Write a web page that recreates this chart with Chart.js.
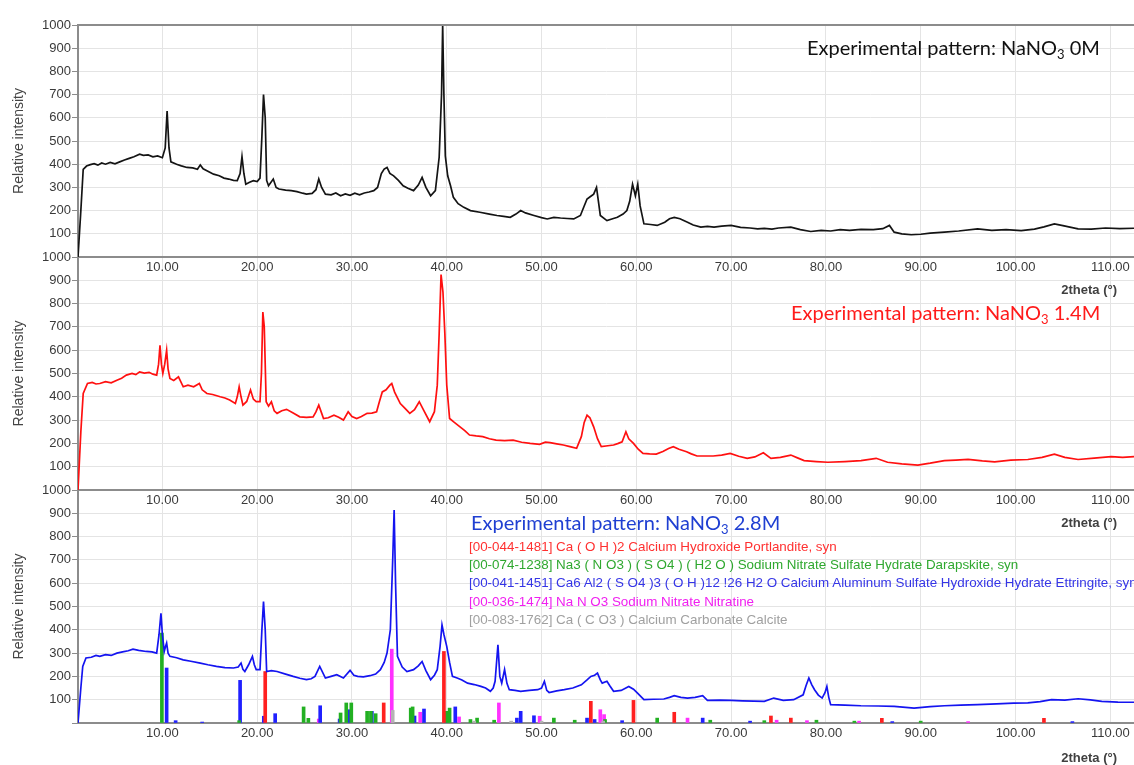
<!DOCTYPE html>
<html>
<head>
<meta charset="utf-8">
<script src="https://cdn.jsdelivr.net/npm/chart.js@4/dist/chart.umd.min.js"></script>
<style>
  html, body { margin: 0; padding: 0; background: #fff; }
  body { width: 1134px; height: 765px; overflow: hidden; position: relative; font-family: "Liberation Sans", Arial, sans-serif; }
  .panel { position: absolute; left: 0; width: 1134px; }
  #p1 { top: 0; height: 287px; z-index: 3; }
  #p2 { top: 232px; height: 288px; z-index: 2; }
  #p3 { top: 465px; height: 288px; z-index: 1; }
  .exp { position: absolute; z-index: 10; white-space: nowrap; font-family: Lato, "Open Sans", sans-serif; font-size: 20px; line-height: 20px; }
  .exp sub { font-size: 13px; vertical-align: -4px; line-height: 0; }
  .xt { position: absolute; z-index: 10; right: 17px; white-space: nowrap; font-weight: bold; font-size: 13px; line-height: 15px; color: #404040; }
  #legend { position: absolute; z-index: 10; left: 469px; top: 538px; font-size: 13.4px; line-height: 18.2px; white-space: nowrap; }
</style>
</head>
<body>
<canvas id="p1" class="panel" width="1134" height="287"></canvas>
<canvas id="p2" class="panel" width="1134" height="288"></canvas>
<canvas id="p3" class="panel" width="1134" height="288"></canvas>

<div class="exp" style="left:807px;top:37px;color:#111;">Experimental pattern: NaNO<sub>3</sub> 0M</div>
<div class="exp" style="left:791px;top:302px;color:#ff1a1a;">Experimental pattern: NaNO<sub>3</sub> 1.4M</div>
<div class="exp" style="left:471px;top:512px;color:#1f3fd2;">Experimental pattern: NaNO<sub>3</sub> 2.8M</div>

<div class="xt" style="top:282px;">2theta (°)</div>
<div class="xt" style="top:515px;">2theta (°)</div>
<div class="xt" style="top:750px;">2theta (°)</div>

<div id="legend">
  <div style="color:#ff3030;">[00-044-1481] Ca ( O H )2 Calcium Hydroxide Portlandite, syn</div>
  <div style="color:#2fa82f;">[00-074-1238] Na3 ( N O3 ) ( S O4 ) ( H2 O ) Sodium Nitrate Sulfate Hydrate Darapskite, syn</div>
  <div style="color:#3535e6;">[00-041-1451] Ca6 Al2 ( S O4 )3 ( O H )12 !26 H2 O Calcium Aluminum Sulfate Hydroxide Hydrate Ettringite, syn</div>
  <div style="color:#f020f0;">[00-036-1474] Na N O3 Sodium Nitrate Nitratine</div>
  <div style="color:#a0a0a0;">[00-083-1762] Ca ( C O3 ) Calcium Carbonate Calcite</div>
</div>

<script>
// ---------- DATA (2theta in degrees, relative intensity) ----------
const yTickValues = [100, 200, 300, 400, 500, 600, 700, 800, 900, 1000];
const xTickValues = [10, 20, 30, 40, 50, 60, 70, 80, 90, 100, 110];

// Experimental pattern NaNO3 0M
const pattern0M = [
  [1.1,0],[1.4,200],[1.65,378],[2.0,392],[2.4,398],[2.8,402],[3.2,396],[3.6,405],[4.0,400],[4.5,408],
  [5.0,402],[5.5,410],[6.0,418],[6.5,425],[7.0,432],[7.6,443],[8.0,438],[8.5,440],[9.0,432],[9.5,436],
  [10.0,428],[10.3,470],[10.5,629],[10.7,470],[10.9,410],[11.5,400],[12.0,393],[12.6,386],[13.2,384],[13.7,378],
  [14.0,397],[14.3,380],[14.8,370],[15.4,357],[16.0,350],[16.5,340],[17.0,336],[17.5,330],[17.9,329],[18.2,360],
  [18.4,433],[18.6,360],[18.8,314],[19.2,322],[19.6,329],[20.0,325],[20.3,340],[20.5,520],[20.67,700],[20.85,600],
  [21.0,330],[21.2,307],[21.7,336],[22.0,300],[22.3,293],[23.0,288],[23.6,286],[24.2,282],[24.8,275],[25.2,271],
  [25.8,274],[26.2,290],[26.5,336],[26.8,300],[27.2,271],[27.8,268],[28.3,276],[28.8,264],[29.3,272],[29.8,266],
  [30.3,275],[30.8,268],[31.3,276],[31.8,280],[32.3,286],[32.7,300],[33.1,360],[33.4,379],[33.7,386],[34.0,360],
  [34.4,350],[34.9,330],[35.4,307],[35.9,296],[36.5,286],[37.0,310],[37.4,343],[37.8,300],[38.3,264],[38.8,286],
  [39.2,430],[39.45,700],[39.57,1000],[39.7,700],[39.85,436],[40.1,350],[40.4,307],[40.7,257],[41.2,230],[41.8,214],
  [42.5,200],[43.5,193],[44.5,185],[45.3,179],[46.0,175],[46.7,171],[47.3,185],[47.8,200],[48.3,190],[49.2,179],
  [50.0,170],[50.6,164],[51.3,171],[52.0,168],[52.7,166],[53.4,164],[54.1,179],[54.5,220],[54.8,250],[55.2,262],
  [55.5,271],[55.8,300],[56.0,240],[56.2,179],[56.9,157],[57.5,165],[58.0,171],[58.6,185],[59.0,200],[59.3,240],
  [59.6,314],[59.9,264],[60.15,314],[60.4,220],[60.8,143],[61.5,140],[62.2,136],[63.0,150],[63.5,165],[64.0,171],
  [64.6,165],[65.4,150],[66.0,138],[66.8,129],[67.5,132],[68.2,129],[69.0,133],[70.0,136],[71.0,128],[72.0,125],
  [72.8,121],[73.5,123],[74.3,120],[75.0,125],[76.3,129],[77.3,118],[78.4,110],[79.5,115],[80.5,112],[81.5,118],
  [82.5,115],[83.7,119],[85.0,118],[86.0,122],[86.7,136],[87.2,107],[88.0,100],[89.0,96],[90.0,98],[91.0,103],
  [92.5,107],[94.0,112],[96.0,121],[97.5,115],[99.0,118],[100.6,114],[102.0,120],[103.0,130],[104.1,143],[105.0,135],
  [106.6,121],[108.0,120],[109.5,125],[111.0,122],[112.5,124]
];

// Experimental pattern NaNO3 1.4M
const pattern14M = [
  [1.1,0],[1.4,250],[1.65,414],[2.1,457],[2.6,462],[3.0,455],[3.4,457],[4.0,465],[4.6,460],[5.2,471],
  [5.7,480],[6.2,493],[6.8,500],[7.2,495],[7.6,507],[8.1,502],[8.6,505],[9.0,497],[9.4,493],[9.6,540],
  [9.75,621],[9.9,540],[10.05,500],[10.25,540],[10.45,600],[10.6,520],[10.8,479],[11.2,470],[11.7,486],[12.2,443],
  [12.7,450],[13.3,443],[13.9,457],[14.2,430],[14.7,414],[15.3,410],[16.1,400],[16.6,395],[17.1,386],[17.7,371],
  [17.9,400],[18.1,443],[18.3,400],[18.5,364],[18.9,380],[19.3,429],[19.6,390],[19.9,379],[20.3,379],[20.45,500],
  [20.6,764],[20.75,700],[20.95,379],[21.2,360],[21.5,379],[21.8,340],[22.1,329],[22.6,340],[23.1,346],[23.8,330],
  [24.5,314],[25.2,312],[25.9,314],[26.2,335],[26.5,364],[26.8,330],[27.0,307],[27.5,310],[28.1,321],[28.6,312],
  [29.1,300],[29.6,336],[30.0,315],[30.5,307],[31.0,315],[31.6,329],[32.1,330],[32.6,336],[32.9,380],[33.2,421],
  [33.6,430],[34.0,450],[34.2,457],[34.5,420],[35.1,371],[35.6,350],[36.1,329],[36.6,345],[37.1,379],[37.6,340],
  [38.2,293],[38.7,336],[39.0,450],[39.2,671],[39.4,925],[39.6,850],[39.8,671],[40.0,450],[40.3,307],[40.8,290],
  [41.4,271],[41.9,255],[42.4,236],[43.1,232],[43.8,229],[44.5,220],[45.2,214],[46.1,212],[47.0,214],[47.9,205],
  [48.8,200],[49.8,196],[50.4,205],[50.9,203],[51.6,198],[52.3,193],[53.0,186],[53.7,179],[54.2,229],[54.5,290],
  [54.8,321],[55.1,310],[55.5,271],[55.9,220],[56.3,186],[57.0,190],[57.6,193],[58.1,200],[58.5,207],[58.9,250],
  [59.2,220],[59.7,200],[60.2,175],[60.7,157],[61.4,155],[62.1,154],[62.8,165],[63.4,178],[63.9,186],[64.5,175],
  [65.3,164],[65.8,155],[66.4,146],[67.2,146],[68.1,146],[69.0,150],[69.9,157],[70.8,145],[71.7,136],[72.5,142],
  [73.4,160],[74.2,136],[75.2,140],[76.3,150],[77.0,138],[77.7,126],[79.0,122],[80.2,119],[82.0,122],[83.7,126],
  [85.3,136],[86.5,119],[88.0,112],[89.7,107],[91.0,115],[92.5,126],[93.7,128],[95.0,131],[96.5,125],[97.8,121],
  [99.5,128],[101.3,131],[102.8,140],[104.1,154],[105.2,140],[106.6,131],[108.3,137],[110.1,143],[111.3,140],[112.5,143]
];

// Experimental pattern NaNO3 2.8M
const pattern28M = [
  [1.1,0],[1.4,150],[1.6,243],[1.94,279],[2.5,282],[3.0,290],[3.4,286],[4.0,293],[4.6,290],[5.2,300],
  [5.8,305],[6.4,310],[6.9,317],[7.5,312],[8.3,307],[8.9,305],[9.4,300],[9.65,380],[9.85,471],[10.0,380],
  [10.2,307],[10.35,330],[10.45,343],[10.6,300],[10.8,286],[11.5,280],[12.2,271],[13.0,265],[14.0,257],[14.8,250],
  [15.7,243],[16.6,238],[17.5,236],[18.0,240],[18.3,257],[18.5,230],[18.7,221],[19.1,250],[19.5,286],[19.7,250],
  [19.9,229],[20.3,229],[20.5,400],[20.67,521],[20.85,400],[21.0,221],[21.5,225],[22.1,221],[23.0,210],[23.8,200],
  [24.5,192],[25.2,186],[25.7,190],[26.1,200],[26.6,243],[27.2,193],[27.8,200],[28.4,207],[29.1,193],[29.8,226],
  [30.2,205],[30.6,200],[31.2,198],[31.9,203],[32.5,210],[33.0,229],[33.4,260],[33.7,300],[34.05,400],[34.3,700],
  [34.45,914],[34.6,600],[34.8,286],[35.3,240],[35.8,221],[36.5,229],[37.0,245],[37.4,264],[37.8,225],[38.3,186],
  [38.7,205],[39.0,229],[39.3,330],[39.5,421],[39.7,380],[40.0,329],[40.3,260],[40.6,200],[41.1,193],[41.6,185],
  [42.2,171],[42.9,165],[43.6,157],[44.1,150],[44.6,136],[44.9,150],[45.1,179],[45.4,336],[45.6,200],[45.8,171],
  [46.1,229],[46.35,170],[46.6,143],[47.2,140],[47.8,136],[48.7,140],[49.6,143],[50.0,150],[50.3,179],[50.55,140],
  [50.8,131],[51.6,138],[52.4,143],[53.3,150],[54.2,164],[54.8,185],[55.2,200],[55.6,205],[55.9,214],[56.2,185],
  [56.4,171],[56.9,179],[57.2,160],[57.6,136],[58.4,140],[59.2,157],[59.7,145],[60.1,129],[60.8,100],[61.8,102],
  [62.9,103],[63.5,110],[64.0,117],[64.7,110],[65.4,107],[66.2,110],[67.0,117],[67.5,97],[68.8,98],[70.0,97],
  [71.2,95],[72.4,94],[73.5,93],[74.5,107],[75.5,97],[76.6,100],[77.6,121],[77.9,160],[78.2,193],[78.5,165],
  [78.8,143],[79.2,120],[79.6,107],[79.9,130],[80.1,157],[80.3,110],[80.5,79],[82.0,77],[83.7,74],[85.5,73],
  [87.2,71],[89.3,64],[91.0,70],[92.5,74],[94.2,77],[96.0,79],[98.0,82],[99.8,85],[101.3,86],[102.6,92],
  [103.8,100],[105.2,98],[106.6,104],[107.9,99],[109.1,93],[110.8,90],[112.5,89]
];

// Reference (stick) patterns
const portlandite = [[20.85,221],[33.35,86],[39.7,307],[55.2,93],[59.7,97],[64.0,46],[74.2,30],[76.3,21],[85.9,20],[103.0,20]];
const darapskite = [[9.95,386],[18.1,10],[24.9,69],[25.4,20],[28.8,43],[29.4,86],[29.93,86],[31.6,50],[32.0,50],[32.5,40],
  [36.2,64],[36.4,69],[40.0,50],[40.3,64],[42.5,15],[43.2,21],[45.0,12],[51.3,21],[53.5,12],[56.7,15],[62.2,21],[67.8,12],[73.5,10],[79.0,12],[83.0,8],[90.0,8]];
const ettringite = [[10.45,236],[11.4,10],[14.2,4],[18.2,183],[20.7,29],[21.9,40],[26.65,74],[28.7,17],[29.75,57],[32.1,50],
  [36.6,30],[37.6,60],[39.9,40],[40.9,69],[47.4,21],[47.8,50],[49.2,31],[54.8,21],[55.6,15],[58.5,10],[67.0,21],[72.0,8],[87.0,6],[106.0,6]];
const nitratine = [[26.5,17],[34.2,317],[37.2,46],[41.3,26],[45.5,86],[49.8,29],[56.2,57],[56.6,36],[65.4,21],[74.8,12],[78.0,10],[83.5,8],[95.0,6]];
const calcite = [[34.3,54],[42.9,8],[46.8,8],[50.0,8],[56.5,8]];

// ---------- CHARTS ----------
const toXY = arr => arr.map(p => ({ x: p[0], y: p[1] }));
const X_MIN = 1.1, X_MAX = 112.5;
const tickFont = { family: "'Liberation Sans', Arial, sans-serif", size: 13 };

const framePlugin = {
  id: 'frame',
  afterDatasetsDraw(chart) {
    const { ctx, chartArea: { left, top, right } } = chart;
    ctx.save();
    ctx.strokeStyle = '#8c8c8c';
    ctx.lineWidth = 2;
    ctx.beginPath();
    ctx.moveTo(left, top);
    ctx.lineTo(right, top);
    ctx.stroke();
    ctx.restore();
  }
};

function makeOptions() {
  return {
    responsive: false,
    animation: false,
    devicePixelRatio: 1,
    layout: { padding: { top: 25, right: 0, left: 0, bottom: 0 } },
    plugins: { legend: { display: false }, tooltip: { enabled: false } },
    scales: {
      x: {
        type: 'linear',
        min: X_MIN, max: X_MAX,
        offset: false,
        afterBuildTicks: scale => { scale.ticks = xTickValues.map(v => ({ value: v })); },
        ticks: { font: tickFont, color: '#3a3a3a', padding: 3, maxRotation: 0, autoSkip: false,
                 callback: v => Number(v).toFixed(2) },
        grid: { color: '#e4e4e4', drawTicks: false, offset: false },
        border: { display: true, color: '#8c8c8c', width: 2 },
        afterFit: scale => { scale.height = 30; }
      },
      y: {
        type: 'linear',
        min: 0, max: 1000,
        afterBuildTicks: scale => { scale.ticks = [0].concat(yTickValues).map(v => ({ value: v })); },
        ticks: { font: tickFont, color: '#3a3a3a', padding: 1, autoSkip: false,
                 callback: v => (v === 0 ? '' : String(v)) },
        grid: { color: '#e4e4e4', tickLength: 6, tickColor: '#8c8c8c' },
        border: { display: true, color: '#8c8c8c', width: 2 },
        title: { display: true, text: 'Relative intensity', color: '#454545',
                 font: { family: "'Liberation Sans', Arial, sans-serif", size: 14 }, padding: { top: 11, bottom: 0 } },
        afterFit: scale => { scale.width = 78; }
      }
    }
  };
}

function lineSet(label, pts, color) {
  return { type: 'line', label, data: toXY(pts), borderColor: color, backgroundColor: color,
           borderWidth: 1.7, pointRadius: 0, tension: 0, fill: false, order: 0 };
}
function stickSet(label, pts, color, order) {
  return { type: 'bar', label, data: toXY(pts), backgroundColor: color, borderWidth: 0,
           barThickness: 3, grouped: false, order };
}

new Chart(document.getElementById('p1'), {
  type: 'line',
  data: { datasets: [lineSet('NaNO3 0M', pattern0M, '#141414')] },
  options: makeOptions(),
  plugins: [framePlugin]
});

new Chart(document.getElementById('p2'), {
  type: 'line',
  data: { datasets: [lineSet('NaNO3 1.4M', pattern14M, '#ff1010')] },
  options: makeOptions(),
  plugins: [framePlugin]
});

new Chart(document.getElementById('p3'), {
  type: 'line',
  data: { datasets: [
    lineSet('NaNO3 2.8M', pattern28M, '#1414f0'),
    stickSet('Portlandite', portlandite, '#ff2020', 2),
    stickSet('Darapskite', darapskite, '#22b022', 3),
    stickSet('Ettringite', ettringite, '#2020ff', 4),
    stickSet('Nitratine', nitratine, '#ff30ff', 5),
    stickSet('Calcite', calcite, '#b4b4b4', 1)
  ] },
  options: makeOptions(),
  plugins: [framePlugin]
});
</script>
</body>
</html>
